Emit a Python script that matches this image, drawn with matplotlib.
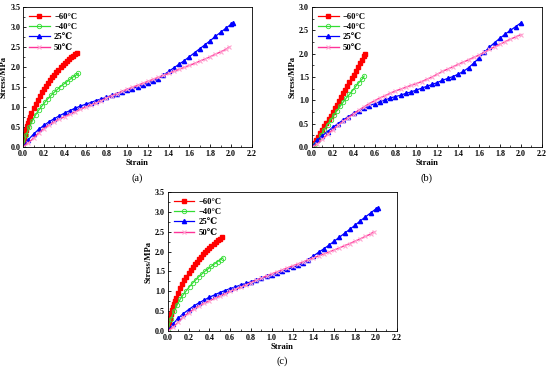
import matplotlib
matplotlib.use('Agg')
import matplotlib.pyplot as plt
from matplotlib.ticker import MultipleLocator

plt.rcParams['font.family'] = ['Liberation Serif', 'DejaVu Serif']
plt.rcParams['font.weight'] = 'bold'

labels = ['\u221260\u00b0C', '\u221240\u00b0C', '25\u2103', '50\u2103']

# panel (a) and (c)
a_m60_x = [0.0, 0.01, 0.02, 0.03, 0.04, 0.05, 0.06, 0.07, 0.08, 0.1, 0.12, 0.14, 0.16, 0.18, 0.2,
           0.22, 0.24, 0.26, 0.28, 0.3, 0.32, 0.34, 0.36, 0.38, 0.4, 0.42, 0.44, 0.46, 0.48, 0.5, 0.52]
a_m60_y = [0.12, 0.22, 0.32, 0.42, 0.52, 0.6, 0.68, 0.76, 0.84, 0.97, 1.08, 1.18, 1.28, 1.37, 1.45,
           1.53, 1.61, 1.68, 1.75, 1.81, 1.87, 1.93, 1.99, 2.04, 2.09, 2.14, 2.19, 2.24, 2.28, 2.32, 2.36]
a_m40_x = [0.0, 0.03, 0.06, 0.09, 0.12, 0.15, 0.18, 0.21, 0.24, 0.27, 0.3, 0.33, 0.36, 0.39,
           0.42, 0.45, 0.48, 0.51, 0.53]
a_m40_y = [0.0, 0.3, 0.5, 0.66, 0.8, 0.92, 1.02, 1.12, 1.21, 1.29, 1.37, 1.44, 1.51, 1.57,
           1.63, 1.69, 1.75, 1.8, 1.84]
a_25_x = [0.0, 0.05, 0.1, 0.15, 0.2, 0.25, 0.3, 0.35, 0.4, 0.45, 0.5, 0.55, 0.6, 0.65, 0.7, 0.75,
          0.8, 0.85, 0.9, 0.95, 1.0, 1.05, 1.1, 1.15, 1.2, 1.25, 1.3, 1.35, 1.4, 1.45, 1.5, 1.55,
          1.6, 1.65, 1.7, 1.75, 1.8, 1.85, 1.9, 1.95, 2.0, 2.02]
a_25_y = [0.0, 0.18, 0.32, 0.44, 0.54, 0.63, 0.71, 0.78, 0.85, 0.91, 0.97, 1.02, 1.07, 1.11, 1.16, 1.2,
          1.24, 1.29, 1.33, 1.38, 1.42, 1.46, 1.5, 1.55, 1.6, 1.65, 1.71, 1.8, 1.89, 1.98, 2.07, 2.16,
          2.26, 2.36, 2.46, 2.56, 2.66, 2.77, 2.87, 2.97, 3.07, 3.1]
a_50_x = [0.0, 0.05, 0.1, 0.15, 0.2, 0.25, 0.3, 0.35, 0.4, 0.45, 0.5, 0.55, 0.6, 0.65, 0.7, 0.75,
          0.8, 0.85, 0.9, 0.95, 1.0, 1.05, 1.1, 1.15, 1.2, 1.25, 1.3, 1.35, 1.4, 1.45, 1.5, 1.55,
          1.6, 1.65, 1.7, 1.75, 1.8, 1.85, 1.9, 1.95, 1.98]
a_50_y = [0.0, 0.1, 0.22, 0.35, 0.46, 0.55, 0.63, 0.7, 0.76, 0.82, 0.88, 0.94, 1.0, 1.05, 1.1, 1.16,
          1.22, 1.28, 1.33, 1.39, 1.44, 1.49, 1.54, 1.59, 1.64, 1.69, 1.74, 1.79, 1.84, 1.89, 1.94, 1.99,
          2.04, 2.09, 2.15, 2.2, 2.26, 2.32, 2.38, 2.44, 2.5]

# panel (b)
b_m60_x = [0.0, 0.02, 0.04, 0.06, 0.08, 0.1, 0.12, 0.14, 0.16, 0.18, 0.2, 0.22, 0.24, 0.26, 0.28,
           0.3, 0.32, 0.34, 0.36, 0.38, 0.4, 0.42, 0.44, 0.46, 0.48, 0.5, 0.51]
b_m60_y = [0.0, 0.08, 0.15, 0.22, 0.3, 0.37, 0.45, 0.52, 0.6, 0.67, 0.75, 0.83, 0.91, 0.99, 1.07,
           1.15, 1.23, 1.31, 1.39, 1.47, 1.55, 1.63, 1.71, 1.79, 1.87, 1.95, 2.0]
b_m40_x = [0.0, 0.03, 0.06, 0.09, 0.12, 0.15, 0.18, 0.21, 0.24, 0.27, 0.3, 0.33, 0.36, 0.39,
           0.42, 0.45, 0.48, 0.5]
b_m40_y = [0.0, 0.06, 0.15, 0.26, 0.37, 0.48, 0.58, 0.68, 0.78, 0.87, 0.96, 1.05, 1.13, 1.21,
           1.3, 1.38, 1.45, 1.52]
b_25_x = [0.0, 0.05, 0.1, 0.15, 0.2, 0.25, 0.3, 0.35, 0.4, 0.45, 0.5, 0.55, 0.6, 0.65, 0.7, 0.75,
          0.8, 0.85, 0.9, 0.95, 1.0, 1.05, 1.1, 1.15, 1.2, 1.25, 1.3, 1.35, 1.4, 1.45, 1.5, 1.55,
          1.6, 1.65, 1.7, 1.75, 1.8, 1.85, 1.9, 1.95, 2.0]
b_25_y = [0.0, 0.14, 0.24, 0.33, 0.42, 0.5, 0.58, 0.65, 0.72, 0.78, 0.83, 0.88, 0.93, 0.97, 1.01, 1.05,
          1.08, 1.11, 1.15, 1.18, 1.22, 1.26, 1.3, 1.34, 1.38, 1.43, 1.47, 1.51, 1.56, 1.62, 1.7, 1.8,
          1.91, 2.03, 2.14, 2.24, 2.33, 2.42, 2.5, 2.58, 2.66]
b_50_x = [0.0, 0.05, 0.1, 0.15, 0.2, 0.25, 0.3, 0.35, 0.4, 0.45, 0.5, 0.55, 0.6, 0.65, 0.7, 0.75,
          0.8, 0.85, 0.9, 0.95, 1.0, 1.05, 1.1, 1.15, 1.2, 1.25, 1.3, 1.35, 1.4, 1.45, 1.5, 1.55,
          1.6, 1.65, 1.7, 1.75, 1.8, 1.85, 1.9, 1.95, 2.0]
b_50_y = [0.0, 0.06, 0.16, 0.27, 0.37, 0.46, 0.55, 0.63, 0.71, 0.79, 0.86, 0.93, 0.99, 1.05, 1.1, 1.15,
          1.2, 1.24, 1.28, 1.32, 1.36, 1.4, 1.45, 1.5, 1.56, 1.62, 1.67, 1.72, 1.77, 1.82, 1.87, 1.92,
          1.97, 2.03, 2.09, 2.15, 2.2, 2.26, 2.31, 2.36, 2.41]

panels = [
    ('(a)', [0.042, 0.605, 0.416, 0.376], 3.5, (a_m60_x, a_m60_y), (a_m40_x, a_m40_y), (a_25_x, a_25_y), (a_50_x, a_50_y)),
    ('(b)', [0.567, 0.605, 0.418, 0.376], 3.0, (b_m60_x, b_m60_y), (b_m40_x, b_m40_y), (b_25_x, b_25_y), (b_50_x, b_50_y)),
    ('(c)', [0.305, 0.110, 0.416, 0.374], 3.5, (a_m60_x, a_m60_y), (a_m40_x, a_m40_y), (a_25_x, a_25_y), (a_50_x, a_50_y)),
]

fig = plt.figure(figsize=(5.5, 3.72), dpi=100)

for tag, rect, ymax, m60, m40, t25, t50 in panels:
    ax = fig.add_axes(rect)
    ax.plot(m60[0], m60[1], color='red', marker='s', ms=2.6, lw=0.9, label=labels[0])
    ax.plot(m40[0], m40[1], color='#33dd33', marker='o', ms=3.2, mfc='none', mew=0.6, lw=0.9, label=labels[1])
    ax.plot(t25[0], t25[1], color='blue', marker='^', ms=3.0, lw=0.9, label=labels[2])
    ax.plot(t50[0], t50[1], color='#ff3399', marker='x', ms=2.8, mec='#ffa6d2', mew=0.8, lw=1.0, label=labels[3])

    ax.set_xlim(0, 2.2)
    ax.set_ylim(0, ymax)
    ax.xaxis.set_major_locator(MultipleLocator(0.2))
    ax.xaxis.set_minor_locator(MultipleLocator(0.1))
    ax.yaxis.set_major_locator(MultipleLocator(0.5))
    ax.yaxis.set_minor_locator(MultipleLocator(0.25))
    ax.tick_params(which='both', direction='in', labelsize=5.8, pad=2)
    ax.tick_params(which='major', length=2.5, width=0.6)
    ax.tick_params(which='minor', length=1.5, width=0.5)
    for sp in ax.spines.values():
        sp.set_linewidth(0.6)
    ax.set_xlabel('Strain', fontsize=6.2, fontweight='bold', labelpad=1)
    ax.set_ylabel('Stress/MPa', fontsize=6.2, fontweight='bold', labelpad=2)
    ax.legend(loc='upper left', frameon=False, fontsize=6.2, handlelength=2.4,
              labelspacing=0.25, borderaxespad=0.3, handletextpad=0.5)
    ax.text(0.5, -0.22, tag, transform=ax.transAxes, ha='center', va='center',
            fontsize=7.5, fontweight='normal')

plt.savefig('out.png', dpi=100)
